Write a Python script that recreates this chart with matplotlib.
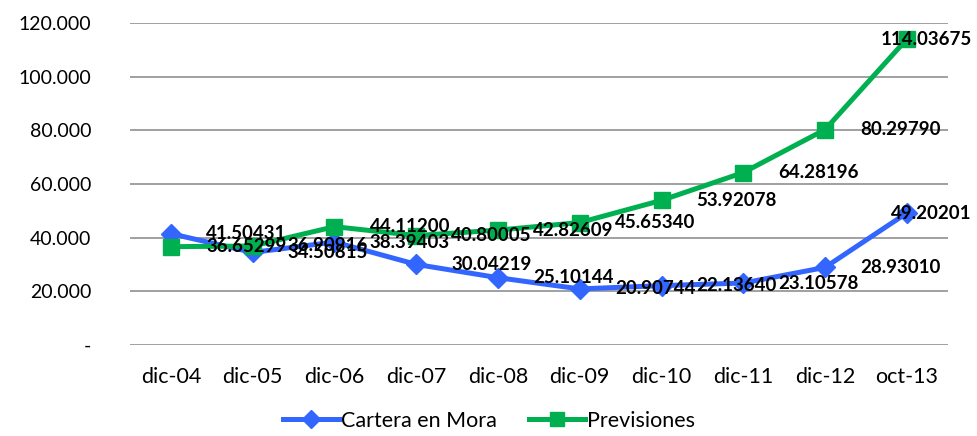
import matplotlib
matplotlib.use("Agg")
import matplotlib.pyplot as plt
import matplotlib.ticker as ticker
from matplotlib.lines import Line2D

plt.rcParams['font.family'] = ['Lato', 'DejaVu Sans']

periodos = ["dic-04", "dic-05", "dic-06", "dic-07", "dic-08",
            "dic-09", "dic-10", "dic-11", "dic-12", "oct-13"]
cartera_mora = [41.50431, 34.50815, 38.39403, 30.04219, 25.10144,
                20.90744, 22.13640, 23.10578, 28.93010, 49.20201]
previsiones = [36.65299, 36.90916, 44.11200, 40.80005, 42.82609,
               45.65340, 53.92078, 64.28196, 80.29790, 114.03675]

azul = "#3366ff"
verde = "#00b050"

fig = plt.figure(figsize=(9.78, 4.36), dpi=100)
ax = fig.add_axes([0.133, 0.2087, 0.836, 0.7383])

x = list(range(len(periodos)))
ax.plot(x, cartera_mora, color=azul, lw=3.6, marker="D", ms=10, zorder=3)
ax.plot(x, previsiones, color=verde, lw=3.6, marker="s", ms=12, zorder=3)

# data labels to the right of each point, last one pulled back inside
for serie in (cartera_mora, previsiones):
    for i, v in enumerate(serie):
        if i == len(serie) - 1:
            ax.annotate("{0:.5f}".format(v), (i, v), xytext=(65, 0),
                        textcoords="offset pixels", ha="right", va="center",
                        fontsize=13.5, fontweight="bold", zorder=4)
        else:
            ax.annotate("{0:.5f}".format(v), (i, v), xytext=(35, 0),
                        textcoords="offset pixels", ha="left", va="center",
                        fontsize=13.5, fontweight="bold", zorder=4)

ax.set_xlim(-0.5, len(periodos) - 0.5)
ax.set_ylim(0, 120)
ax.set_yticks(range(0, 121, 20))
ax.yaxis.set_major_formatter(ticker.FuncFormatter(
    lambda v, p: "-" if v == 0 else "{0:,}".format(int(round(v * 1000))).replace(",", ".")))
ax.set_xticks(x)
ax.set_xticklabels(periodos)
ax.tick_params(axis="both", length=0, colors="black")
ax.tick_params(axis="y", pad=28, labelsize=14)
ax.tick_params(axis="x", pad=16, labelsize=15.5)
ax.grid(axis="y", color="#999999", lw=1.3)
ax.set_axisbelow(True)
for s in ax.spines.values():
    s.set_visible(False)

handles = [Line2D([], [], color=azul, lw=3.6, marker="D", ms=9),
           Line2D([], [], color=verde, lw=3.6, marker="s", ms=10)]
fig.legend(handles, ["Cartera en Mora", "Previsiones"], loc="lower center",
           bbox_to_anchor=(0.5, -0.033), ncol=2, frameon=False, fontsize=15.5,
           handlelength=2.6, handletextpad=0.1, columnspacing=1.5)

fig.savefig("out.png", dpi=100)
